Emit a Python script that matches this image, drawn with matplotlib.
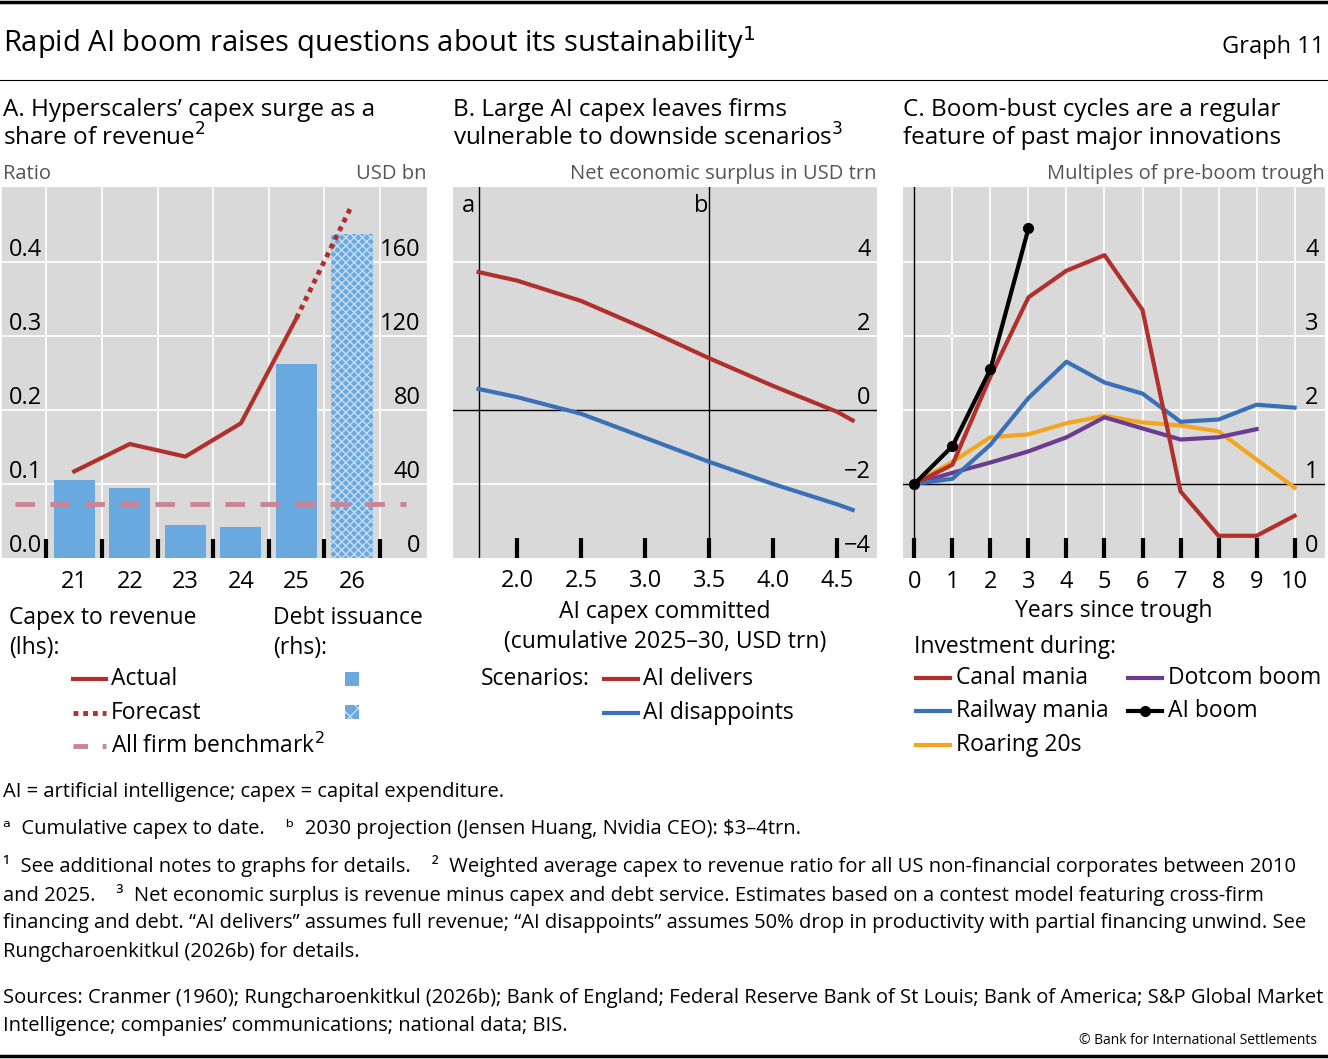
import matplotlib.pyplot as plt
import numpy as np
from matplotlib.lines import Line2D
from matplotlib.patches import Rectangle
import matplotlib.transforms as mtransforms

plt.rcParams['font.family'] = ['Open Sans', 'DejaVu Sans']

W, H = 1328, 1059
GRAY = '#d9d9d9'
RED = '#b0302c'
BLUE_BAR = '#69a9e0'
BLUE = '#3a70b8'
ORANGE = '#f4a51e'
PURPLE = '#6a3b8e'
PINK = '#c98593'

# Panel A data
years = [21, 22, 23, 24, 25, 26]
capex_ratio = [0.117, 0.154, 0.137, 0.182, 0.324]
forecast_x = [25, 26]
forecast_ratio = [0.324, 0.477]
benchmark = 0.073
debt_issuance = [42, 38, 18, 17, 105, 175]

# Panel B data
capex_committed = [1.7, 2.0, 2.5, 3.0, 3.5, 4.0, 4.5, 4.62]
ai_delivers = [3.73, 3.5, 2.95, 2.2, 1.4, 0.65, -0.05, -0.28]
ai_disappoints = [0.57, 0.35, -0.1, -0.75, -1.4, -2.0, -2.55, -2.7]

# Panel C data
years_since = list(range(11))
canal = [1, 1.26, 2.45, 3.52, 3.88, 4.09, 3.35, 0.9, 0.3, 0.3, 0.57]
railway = [1, 1.07, 1.53, 2.16, 2.65, 2.37, 2.22, 1.84, 1.87, 2.07, 2.03]
roaring = [1, 1.3, 1.63, 1.67, 1.82, 1.92, 1.83, 1.79, 1.71, 1.33, 0.95]
dotcom = [1, 1.15, 1.29, 1.44, 1.63, 1.9, 1.75, 1.6, 1.63, 1.74]
ai_boom = [1, 1.51, 2.55, 4.45]

fig = plt.figure(figsize=(W / 100, H / 100), dpi=100)


def fx(x):
    return x / W


def fy(y):
    return 1 - y / H


def ftext(x, y, s, size=16, **kw):
    fig.text(fx(x), fy(y), s, fontsize=size, **kw)


def fline(x0, x1, y, **kw):
    fig.add_artist(Line2D([fx(x0), fx(x1)], [fy(y), fy(y)], transform=fig.transFigure, **kw))


def make_ax(x0, x1, y0=187, y1=558):
    ax = fig.add_axes([fx(x0), fy(y1), fx(x1 - x0), (y1 - y0) / H])
    ax.set_facecolor(GRAY)
    for s in ax.spines.values():
        s.set_visible(False)
    ax.set_xticks([])
    ax.set_yticks([])
    return ax


def ylabels(ax, vals, labels, side, size=16):
    tr = mtransforms.blended_transform_factory(ax.transAxes, ax.transData)
    for v, l in zip(vals, labels):
        if side == 'left':
            ax.text(0.015, v, l, transform=tr, ha='left', va='bottom', fontsize=size)
        else:
            ax.text(0.985, v, l, transform=tr, ha='right', va='bottom', fontsize=size)


# header
fline(0, 1328, 2, color='black', lw=2.5)
fline(0, 1328, 80, color='black', lw=0.8)
fline(0, 1328, 1056, color='black', lw=2.5)
ftext(3, 43, 'Rapid AI boom raises questions about its sustainability$^{1}$', size=21, va='center')
ftext(1324, 47, 'Graph 11', size=17, va='center', ha='right')

# ---------- Panel A ----------
ax = make_ax(2, 427)
ax.set_xlim(19.7, 27.35)
ax.set_ylim(0, 0.501)
for v in [0.1, 0.2, 0.3, 0.4]:
    ax.axhline(v, color='white', lw=1.2, zorder=0)
for b in np.arange(20.5, 27, 1):
    ax.axvline(b, color='white', lw=1.2, zorder=0)
    ax.plot([b, b], [0, 0.025], color='black', lw=3, zorder=5, solid_capstyle='butt')
ax2 = ax.twinx()
for s in ax2.spines.values():
    s.set_visible(False)
ax2.set_ylim(0, 200.5)
ax2.set_yticks([])
ax2.bar(years[:-1], debt_issuance[:-1], width=0.74, color=BLUE_BAR, zorder=2)
plt.rcParams['hatch.linewidth'] = 1.0
ax2.bar(years[-1:], debt_issuance[-1:], width=0.74, color=BLUE_BAR, edgecolor='#c8dcef',
        hatch='xxxx', lw=0, zorder=2)
ax2.axhline(benchmark * 400, xmin=0.03, xmax=0.95, color=PINK, lw=3.5, dashes=(4, 3.2), zorder=3)
ax2.plot(years[:-1], np.array(capex_ratio) * 400, color=RED, lw=3, zorder=4)
ax2.plot(forecast_x, np.array(forecast_ratio) * 400, color=RED, lw=3.5, dashes=(1, 1), zorder=4)
ylabels(ax, [0, 0.1, 0.2, 0.3, 0.4], ['0.0', '0.1', '0.2', '0.3', '0.4'], 'left', 17)
ylabels(ax2, [0, 40, 80, 120, 160], ['0', '40', '80', '120', '160'], 'right', 17)
for yr in years:
    ax.text(yr, -0.016, str(yr), ha='center', va='top', fontsize=17,
            transform=ax.transData, clip_on=False)

ftext(3, 110, 'A. Hyperscalers\u2019 capex surge as a', size=17.5, va='center')
ftext(3, 138, 'share of revenue$^{2}$', size=17.5, va='center')
ftext(3, 174, 'Ratio', size=14.5, va='center', color='#555555')
ftext(426, 174, 'USD bn', size=14.5, va='center', ha='right', color='#555555')
ls = 16.5
ftext(9, 618, 'Capex to revenue', size=ls, va='center')
ftext(9, 648, '(lhs):', size=ls, va='center')
ftext(273, 618, 'Debt issuance', size=ls, va='center')
ftext(273, 648, '(rhs):', size=ls, va='center')
fline(73, 106, 679, color=RED, lw=3)
ftext(111, 679, 'Actual', size=ls, va='center')
fline(73, 106, 713, color=RED, lw=3.5, dashes=(1, 1))
ftext(111, 713, 'Forecast', size=ls, va='center')
fline(73, 106, 746, color=PINK, lw=3.5, dashes=(3, 3))
ftext(111, 746, 'All firm benchmark$^{2}$', size=ls, va='center')
fig.add_artist(Rectangle((fx(345), fy(686)), fx(14), 14 / H, transform=fig.transFigure,
                         facecolor=BLUE_BAR, lw=0))
fig.add_artist(Rectangle((fx(345), fy(719)), fx(14), 14 / H, transform=fig.transFigure,
                         facecolor=BLUE_BAR, edgecolor='#c8dcef', hatch='xx', lw=0))

# ---------- Panel B ----------
ax = make_ax(453, 877)
ax.set_xlim(1.5, 4.81)
ax.set_ylim(-4, 6.03)
for v in [-2, 2, 4]:
    ax.axhline(v, color='white', lw=1.2, zorder=0)
ax.axhline(0, color='black', lw=1, zorder=1)
ax.axvline(1.7, color='black', lw=1, zorder=1)
ax.axvline(3.5, color='black', lw=1, zorder=1)
ax.text(1.62, 5.85, 'a', ha='center', va='top', fontsize=17)
ax.text(3.44, 5.85, 'b', ha='center', va='top', fontsize=17)
for t in [2.0, 2.5, 3.0, 3.5, 4.0, 4.5]:
    ax.plot([t, t], [-4, -3.45], color='black', lw=3, solid_capstyle='butt')
    ax.text(t, -4.3, f'{t:.1f}', ha='center', va='top', fontsize=17, clip_on=False)
ax.plot(capex_committed, ai_delivers, color=RED, lw=3)
ax.plot(capex_committed, ai_disappoints, color=BLUE, lw=3)
ylabels(ax, [-4, -2, 0, 2, 4], ['\u22124', '\u22122', '0', '2', '4'], 'right', 17)

ftext(453, 110, 'B. Large AI capex leaves firms', size=17.5, va='center')
ftext(453, 138, 'vulnerable to downside scenarios$^{3}$', size=17.5, va='center')
ftext(876, 174, 'Net economic surplus in USD trn', size=14.5, va='center', ha='right', color='#555555')
ftext(665, 612, 'AI capex committed', size=ls, va='center', ha='center')
ftext(665, 642, '(cumulative 2025\u201330, USD trn)', size=ls, va='center', ha='center')
ftext(481, 679, 'Scenarios:', size=ls, va='center')
fline(604, 638, 679, color=RED, lw=3)
ftext(643, 679, 'AI delivers', size=ls, va='center')
fline(604, 638, 713, color=BLUE, lw=3)
ftext(643, 713, 'AI disappoints', size=ls, va='center')

# ---------- Panel C ----------
ax = make_ax(903, 1325)
ax.set_xlim(-0.3, 10.8)
ax.set_ylim(0, 5.01)
for v in [2, 3, 4]:
    ax.axhline(v, color='white', lw=1.2, zorder=0)
for t in range(1, 11):
    ax.axvline(t, color='white', lw=1.2, zorder=0)
ax.axhline(1, color='black', lw=1, zorder=1)
ax.axvline(0, color='black', lw=1, zorder=1)
for t in years_since:
    ax.plot([t, t], [0, 0.27], color='black', lw=3, solid_capstyle='butt')
    ax.text(t, -0.16, str(t), ha='center', va='top', fontsize=17, clip_on=False)
ax.plot(years_since, roaring, color=ORANGE, lw=3)
ax.plot(years_since[:10], dotcom, color=PURPLE, lw=3)
ax.plot(years_since, railway, color=BLUE, lw=3)
ax.plot(years_since, canal, color=RED, lw=3)
ax.plot(years_since[:4], ai_boom, color='black', lw=3, marker='o', ms=7)
ylabels(ax, [0, 1, 2, 3, 4], ['0', '1', '2', '3', '4'], 'right', 17)

ftext(903, 110, 'C. Boom-bust cycles are a regular', size=17.5, va='center')
ftext(903, 138, 'feature of past major innovations', size=17.5, va='center')
ftext(1325, 174, 'Multiples of pre-boom trough', size=14.5, va='center', ha='right', color='#555555')
ftext(1114, 611, 'Years since trough', size=ls, va='center', ha='center')
ftext(914, 647, 'Investment during:', size=ls, va='center')
for (x0, y, c, lab) in [(916, 678, RED, 'Canal mania'), (916, 711, BLUE, 'Railway mania'),
                        (916, 745, ORANGE, 'Roaring 20s'), (1128, 678, PURPLE, 'Dotcom boom')]:
    fline(x0, x0 + 34, y, color=c, lw=3)
    ftext(x0 + 40, y, lab, size=ls, va='center')
fline(1128, 1162, 711, color='black', lw=3)
fig.add_artist(Line2D([fx(1145)], [fy(711)], transform=fig.transFigure, marker='o', ms=7, color='black'))
ftext(1168, 711, 'AI boom', size=ls, va='center')

# ---------- footnotes ----------
fs = 14.5
ftext(3, 792, 'AI = artificial intelligence; capex = capital expenditure.', size=fs, va='center')
ftext(3, 829, '\u1d43  Cumulative capex to date.    \u1d47  2030 projection (Jensen Huang, Nvidia CEO): \\$3\u20134trn.',
      size=fs, va='center')
ftext(3, 866, '\u00b9  See additional notes to graphs for details.    \u00b2  Weighted average capex to revenue ratio for all US non-financial corporates between 2010',
      size=fs, va='center')
ftext(3, 895, 'and 2025.    \u00b3  Net economic surplus is revenue minus capex and debt service. Estimates based on a contest model featuring cross-firm',
      size=fs, va='center')
ftext(3, 923, 'financing and debt. \u201cAI delivers\u201d assumes full revenue; \u201cAI disappoints\u201d assumes 50% drop in productivity with partial financing unwind. See',
      size=fs, va='center')
ftext(3, 952, 'Rungcharoenkitkul (2026b) for details.', size=fs, va='center')
ftext(3, 998, 'Sources: Cranmer (1960); Rungcharoenkitkul (2026b); Bank of England; Federal Reserve Bank of St Louis; Bank of America; S&P Global Market',
      size=fs, va='center')
ftext(3, 1026, 'Intelligence; companies\u2019 communications; national data; BIS.', size=fs, va='center')
ftext(1317, 1041, '\u00a9 Bank for International Settlements', size=10, va='center', ha='right')

fig.savefig('out.png', dpi=100)
